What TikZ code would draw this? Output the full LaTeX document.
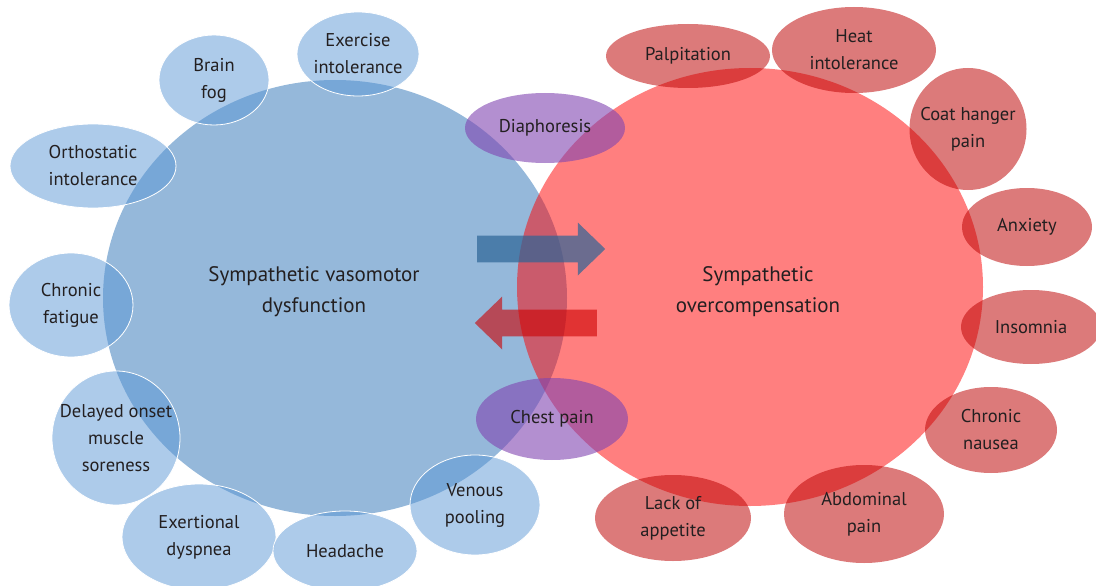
\documentclass[tikz,border=0pt]{standalone}
\usepackage{fontspec}
\setmainfont{PT Sans}
\usetikzlibrary{shapes.geometric, shapes.arrows}
\definecolor{vasoblue}{RGB}{149,184,218}
\definecolor{symblue}{RGB}{91,151,213}
\definecolor{overred}{RGB}{255,0,0}
\definecolor{symred}{RGB}{187,0,0}
\definecolor{bothpurple}{RGB}{128,68,177}
\definecolor{arrowblue}{RGB}{45,100,150}
\definecolor{arrowred}{RGB}{205,0,0}
\definecolor{labeltext}{RGB}{35,31,32}

\tikzset{
  symptom/.style={ellipse, inner sep=-20pt, align=center, text=labeltext,
    text opacity=1, font=\fontsize{18.5}{27}\selectfont},
  bluesym/.style={symptom, fill=symblue, fill opacity=0.5, draw=white, line width=0.8pt},
  redsym/.style={symptom, fill=symred, fill opacity=0.52},
  bothsym/.style={symptom, fill=bothpurple, fill opacity=0.6},
  mainlabel/.style={align=center, text=labeltext, font=\fontsize{21}{31}\selectfont},
  blockarrow/.style={single arrow, anchor=tail, inner xsep=0pt, inner ysep=13pt,
    single arrow head extend=13pt, single arrow tip angle=88, minimum width=53pt}
}

\begin{document}
\begin{tikzpicture}[x=1pt, y=-1pt]
    \useasboundingbox (0,0) rectangle (1096,586);
    \clip (0,0) rectangle (1096,586);

    % Main circles
    \node[ellipse, fill=vasoblue, minimum width=464pt, minimum height=436pt] (vaso) at (335,298) {};
    \node[ellipse, fill=overred, fill opacity=0.5, minimum width=466pt, minimum height=438pt] (over) at (750,287) {};

    % Arrows between the circles
    \node[blockarrow, fill=arrowblue, fill opacity=0.7, minimum height=128pt] (toright) at (477,249) {};
    \node[blockarrow, fill=arrowred, fill opacity=0.6, minimum height=122pt, shape border rotate=180] (toleft) at (597,323) {};

    % Vasomotor symptoms
    \node[bluesym, minimum width=110pt, minimum height=90pt] (brainfog) at (214,80) {Brain\\fog};
    \node[bluesym, minimum width=122pt, minimum height=84pt] (exercise) at (358,54) {Exercise\\intolerance};
    \node[bluesym, minimum width=166pt, minimum height=84pt] (orthostatic) at (93,166) {Orthostatic\\intolerance};
    \node[bluesym, minimum width=124pt, minimum height=104pt] (fatigue) at (71,305) {Chronic\\fatigue};
    \node[bluesym, minimum width=128pt, minimum height=134pt] (doms) at (116,438) {Delayed onset\\muscle\\soreness};
    \node[bluesym, minimum width=154pt, minimum height=106pt] (dyspnea) at (199,537) {Exertional\\dyspnea};
    \node[bluesym, minimum width=144pt, minimum height=80pt] (headache) at (345,551) {Headache};
    \node[bluesym, minimum width=130pt, minimum height=100pt] (venous) at (475,505) {Venous\\pooling};

    % Overcompensation symptoms
    \node[redsym, minimum width=164pt, minimum height=64pt] (palpitation) at (688,56) {Palpitation};
    \node[redsym, minimum width=164pt, minimum height=86pt] (heat) at (854,50) {Heat\\intolerance};
    \node[redsym, minimum width=117pt, minimum height=122pt] (coathanger) at (968,129) {Coat hanger\\pain};
    \node[redsym, minimum width=130pt, minimum height=78pt] (anxiety) at (1027,227) {Anxiety};
    \node[redsym, minimum width=140pt, minimum height=74pt] (insomnia) at (1031,327) {Insomnia};
    \node[redsym, minimum width=132pt, minimum height=86pt] (nausea) at (991,430) {Chronic\\nausea};
    \node[redsym, minimum width=160pt, minimum height=98pt] (abdominal) at (864,514) {Abdominal\\pain};
    \node[redsym, minimum width=156pt, minimum height=86pt] (appetite) at (673,518) {Lack of\\appetite};

    % Shared symptoms
    \node[bothsym, minimum width=160pt, minimum height=70pt] (diaphoresis) at (545,128) {Diaphoresis};
    \node[bothsym, minimum width=152pt, minimum height=82pt] (chestpain) at (552,419) {Chest pain};

    % Circle labels
    \node[mainlabel] (vasolabel) at (314,292) {Sympathetic vasomotor\\dysfunction};
    \node[mainlabel] (overlabel) at (758,292) {Sympathetic\\overcompensation};
\end{tikzpicture}
\end{document}
